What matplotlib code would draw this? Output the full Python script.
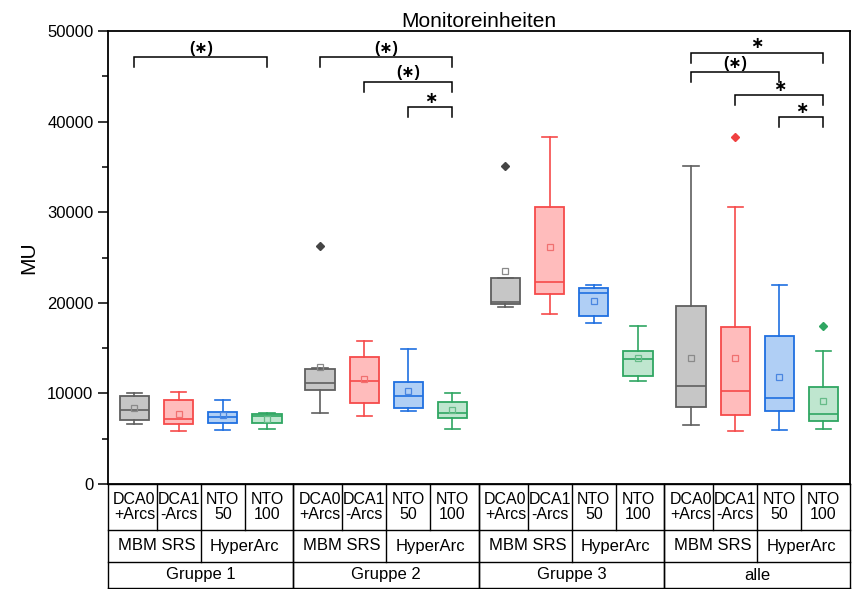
import matplotlib
matplotlib.use("Agg")
import matplotlib.pyplot as plt
from matplotlib.ticker import MultipleLocator
from matplotlib.transforms import blended_transform_factory

plt.rcParams['font.family'] = ['Liberation Sans', 'DejaVu Sans']

# box statistics per group, order: DCA0+Arcs, DCA1-Arcs, NTO 50, NTO 100
groups = ['Gruppe 1', 'Gruppe 2', 'Gruppe 3', 'alle']
methods = ['DCA0\n+Arcs', 'DCA1\n-Arcs', 'NTO\n50', 'NTO\n100']
systems = ['MBM SRS', 'HyperArc']

whislo = [[6590, 5880, 5920, 6030],
          [7800, 7540, 8090, 6030],
          [19540, 18800, 17770, 11370],
          [6550, 5890, 5960, 6030]]
q1 = [[7060, 6590, 6700, 6770],
      [10380, 8900, 8350, 7320],
      [19870, 20970, 18580, 11920],
      [8460, 7620, 8020, 6990]]
med = [[8170, 7140, 7360, 7540],
       [11180, 11370, 9710, 7870],
       [20120, 22260, 21050, 13830],
       [10780, 10300, 9490, 7770]]
q3 = [[9710, 9270, 7980, 7690],
      [12660, 13980, 11290, 9010],
      [22770, 30540, 21670, 14680],
      [19650, 17330, 16370, 10710]]
whishi = [[10080, 10150, 9270, 7800],
          [12840, 15820, 14930, 10080],
          [22770, 38330, 22000, 17470],
          [35070, 30570, 22000, 14640]]
means = [[8350, 7690, 7620, 7170],
         [12950, 11550, 10260, 8170],
         [23540, 26190, 20230, 13910],
         [13950, 13870, 11770, 9190]]
fliers = [[[], [], [], []],
          [[26270], [], [], []],
          [[35100], [], [], []],
          [[], [38260], [], [17470]]]

# significance brackets: (group, left box, right box, height, label)
sig = [(0, 0, 3, 47100, '(∗)'),
       (1, 0, 3, 47100, '(∗)'),
       (1, 1, 3, 44400, '(∗)'),
       (1, 2, 3, 41580, '∗'),
       (3, 0, 3, 47600, '∗'),
       (3, 0, 2, 45440, '(∗)'),
       (3, 1, 3, 42940, '∗'),
       (3, 2, 3, 40470, '∗')]

edge = ['#5f5f5f', '#f64a4a', '#1f6fe0', '#2fa662']
fill = ['#c6c6c6', '#ffbcbc', '#b0cff5', '#bfe6cf']
mean_c = ['#8a8a8a', '#f07070', '#4a86e0', '#66bb88']
flier_c = ['#454545', '#f04040', '#1f6fe0', '#2fa662']

step = 4.2

fig = plt.figure(figsize=(8.53, 5.89), dpi=100)
ax = fig.add_axes([108 / 853, 1 - 484 / 589, 742 / 853, 453 / 589])

for g in range(4):
    for i in range(4):
        st = dict(whislo=whislo[g][i], q1=q1[g][i], med=med[g][i], q3=q3[g][i],
                  whishi=whishi[g][i], mean=means[g][i], fliers=fliers[g][i])
        lp = dict(color=edge[i], linewidth=1.2)
        ax.bxp([st], positions=[g * step + i], widths=0.66, capwidths=0.34,
               patch_artist=True, showmeans=True,
               boxprops=dict(facecolor=fill[i], edgecolor=edge[i], linewidth=1.3),
               medianprops=lp, whiskerprops=lp, capprops=lp,
               meanprops=dict(marker='s', markersize=4, markerfacecolor='none',
                              markeredgecolor=mean_c[i], markeredgewidth=0.9),
               flierprops=dict(marker='D', markersize=4.5, markerfacecolor=flier_c[i],
                               markeredgecolor=flier_c[i]))

left, right = -0.6, 3 * step + 3 + 0.6
ax.set_xlim(left, right)
ax.set_ylim(0, 50000)
ax.set_xticks([])
ax.yaxis.set_major_locator(MultipleLocator(10000))
ax.yaxis.set_minor_locator(MultipleLocator(5000))
ax.tick_params(axis='y', which='major', direction='out', length=7, width=1.1, labelsize=12)
ax.tick_params(axis='y', which='minor', direction='out', length=4, width=1.1)
for sp in ax.spines.values():
    sp.set_linewidth(1.3)
ax.set_ylabel('MU', fontsize=15, labelpad=6)
ax.set_title('Monitoreinheiten', fontsize=15, pad=2)

# significance brackets
leg = 1100
for g, a, b, y, lab in sig:
    x0, x1 = g * step + a, g * step + b
    ax.plot([x0, x0, x1, x1], [y - leg, y, y, y - leg], color='black', lw=1.1,
            solid_joinstyle='miter')
    ax.text((x0 + x1) / 2, y + 150, lab, ha='center', va='bottom', fontsize=11.5,
            fontweight='bold')

# category table below the plot
tr = blended_transform_factory(ax.transData, ax.transAxes)
h = 453.0
rows = [0, -46 / h, -78 / h, -104 / h]
kw = dict(transform=tr, color='black', lw=1.0, clip_on=False)
for y in rows:
    ax.plot([left, right], [y, y], **kw)
for g in range(4):
    gl = left if g == 0 else (g - 1) * step + 3.6
    gr = right if g == 3 else g * step + 3.6
    ax.plot([gl, gl], [rows[0], rows[3]], **kw)
    ax.plot([gr, gr], [rows[0], rows[3]], **kw)
    for i in range(3):
        xb = g * step + i + 0.5
        ax.plot([xb, xb], [rows[0], rows[1]], **kw)
    xs = g * step + 1.5
    ax.plot([xs, xs], [rows[1], rows[2]], **kw)
    for i in range(4):
        ax.text(g * step + i, (rows[0] + rows[1]) / 2, methods[i], transform=tr,
                ha='center', va='center', fontsize=11.5, linespacing=1.05)
    ax.text(g * step + 0.5, (rows[1] + rows[2]) / 2, systems[0], transform=tr,
            ha='center', va='center', fontsize=12)
    ax.text(g * step + 2.5, (rows[1] + rows[2]) / 2, systems[1], transform=tr,
            ha='center', va='center', fontsize=12)
    ax.text(g * step + 1.5, (rows[2] + rows[3]) / 2, groups[g], transform=tr,
            ha='center', va='center', fontsize=12)

fig.savefig('out.png', dpi=100)
